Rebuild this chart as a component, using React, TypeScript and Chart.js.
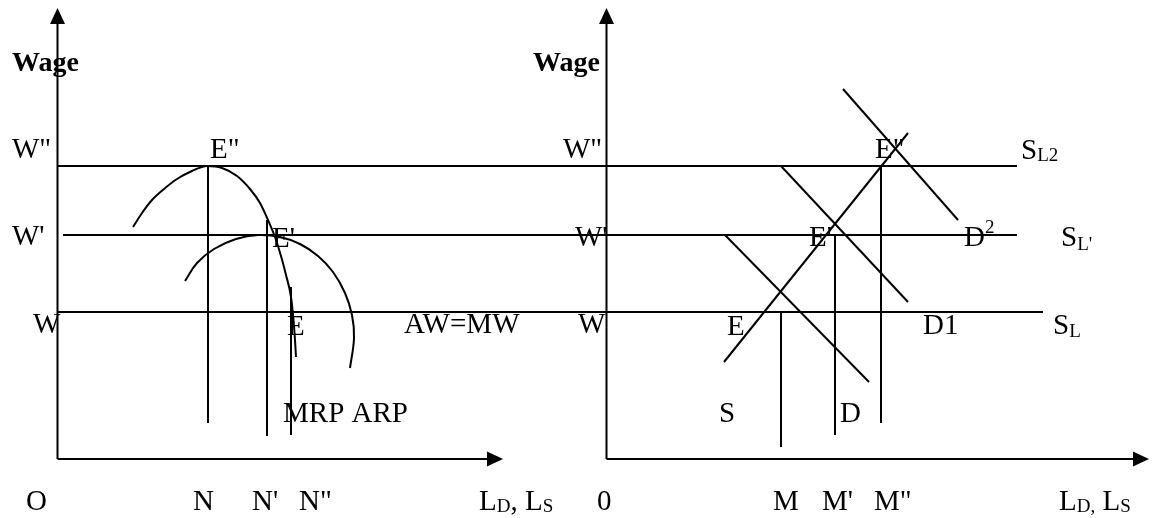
import React, { useEffect, useRef } from "react";
import { Chart, registerables } from "chart.js";

Chart.register(...registerables);

const W = 1152;
const H = 518;

// ---------- Left panel (labour market, firm: MRP / ARP) ----------
const leftWageAxis = [[57.5, 24], [57.5, 459]];
const leftLabourAxis = [[57.5, 459], [487, 459]];
const wageHigh = [[57.5, 166], [1017, 166]]; // W''  (S_L2)
const wageMid = [[63, 235], [1017, 235]]; // W'   (S_L')
const wageLow = [[57.5, 312], [1043, 312]]; // W    (S_L)
const lineN = [[208, 166], [208, 423]];
const lineN1 = [[267, 220], [267, 436]];
const lineN2 = [[291, 287], [291, 435]];
const mrpCurve = [
  [133, 227], [142, 213], [152, 200], [164, 189], [177, 179], [192, 171],
  [207, 166], [222, 168], [237, 176], [250, 189], [260, 203], [268, 220],
  [275, 237], [281, 256], [286, 275], [291, 297], [293.5, 320], [295, 340],
  [296, 357],
];
const arpCurve = [
  [185, 281], [197, 263], [214, 249], [236, 239], [258, 235], [280, 237],
  [300, 244], [318, 256], [333, 272], [345, 293], [352, 315], [354, 338],
  [350, 368],
];

// ---------- Right panel (market supply / demand) ----------
const rightWageAxis = [[606.5, 24], [606.5, 459]];
const rightLabourAxis = [[606.5, 459], [1133, 459]];
const supplyS = [[724, 362], [908, 133]];
const demandD1 = [[725, 235], [869, 382]];
const demandD = [[781, 166], [908, 302]];
const demandD2 = [[843, 89], [958, 220]];
const lineM = [[781, 312], [781, 447]];
const lineM1 = [[835, 235], [835, 435]];
const lineM2 = [[881, 166], [881, 423]];

// Arrow heads: tip, direction
const arrowTips: { at: number[]; dir: "up" | "right" }[] = [
  { at: [57.5, 8], dir: "up" },
  { at: [503, 459], dir: "right" },
  { at: [606.5, 8], dir: "up" },
  { at: [1149, 459], dir: "right" },
];

// Text labels: [x, baseline y, parts]; part = [text, size, dy, bold]
type Part = [string, number, number, boolean?];
const F = 29;
const SUB = 19;
const labels: { at: number[]; parts: Part[] }[] = [
  // left
  { at: [12, 71], parts: [["Wage", 28, 0, true]] },
  { at: [12, 158], parts: [['W"', F, 0]] },
  { at: [210, 158], parts: [['E"', F, 0]] },
  { at: [12, 245], parts: [["W'", F, 0]] },
  { at: [272, 247], parts: [["E'", F, 0]] },
  { at: [33, 333], parts: [["W", F, 0]] },
  { at: [287, 335], parts: [["E", F, 0]] },
  { at: [404, 333], parts: [["AW=MW", F, 0]] },
  { at: [283, 422], parts: [["MRP ARP", F, 0]] },
  { at: [26, 510], parts: [["O", F, 0]] },
  { at: [193, 510], parts: [["N", F, 0]] },
  { at: [252, 510], parts: [["N'", F, 0]] },
  { at: [299, 510], parts: [['N"', F, 0]] },
  { at: [479, 510], parts: [["L", F, 0], ["D", SUB, 2], [", L", F, 0], ["S", SUB, 2]] },
  // right
  { at: [533, 71], parts: [["Wage", 28, 0, true]] },
  { at: [563, 158], parts: [['W"', F, 0]] },
  { at: [575, 246], parts: [["W'", F, 0]] },
  { at: [578, 333], parts: [["W", F, 0]] },
  { at: [597, 510], parts: [["0", F, 0]] },
  { at: [875, 158], parts: [['E"', F, 0]] },
  { at: [1021, 159], parts: [["S", F, 0], ["L2", SUB, 2]] },
  { at: [809, 246], parts: [["E'", F, 0]] },
  { at: [964, 246], parts: [["D", F, 0], ["2", SUB, -13]] },
  { at: [1061, 246], parts: [["S", F, 0], ["L'", SUB, 4]] },
  { at: [727, 335], parts: [["E", F, 0]] },
  { at: [923, 334], parts: [["D1", F, 0]] },
  { at: [1053, 334], parts: [["S", F, 0], ["L", SUB, 3]] },
  { at: [719, 422], parts: [["S", F, 0]] },
  { at: [840, 422], parts: [["D", F, 0]] },
  { at: [773, 510], parts: [["M", F, 0]] },
  { at: [822, 510], parts: [["M'", F, 0]] },
  { at: [874, 510], parts: [['M"', F, 0]] },
  { at: [1059, 510], parts: [["L", F, 0], ["D,", SUB, 2], [" L", F, 0], ["S", SUB, 2]] },
];

const straight = [
  leftWageAxis, leftLabourAxis, wageHigh, wageMid, wageLow, lineN, lineN1, lineN2,
  rightWageAxis, rightLabourAxis, supplyS, demandD1, demandD, demandD2, lineM, lineM1, lineM2,
];

const toPts = (a: number[][]) => a.map(([x, y]) => ({ x, y }));

const annotations = {
  id: "diagramAnnotations",
  afterDatasetsDraw(chart: any) {
    const { ctx, scales } = chart;
    const sx = (v: number) => scales.x.getPixelForValue(v);
    const sy = (v: number) => scales.y.getPixelForValue(v);
    ctx.save();
    ctx.fillStyle = "#000";
    for (const a of arrowTips) {
      const x = sx(a.at[0]);
      const y = sy(a.at[1]);
      ctx.beginPath();
      if (a.dir === "up") {
        ctx.moveTo(x, y);
        ctx.lineTo(x - 7.5, y + 16);
        ctx.lineTo(x + 7.5, y + 16);
      } else {
        ctx.moveTo(x, y);
        ctx.lineTo(x - 16, y - 7.5);
        ctx.lineTo(x - 16, y + 7.5);
      }
      ctx.closePath();
      ctx.fill();
    }
    ctx.textBaseline = "alphabetic";
    ctx.textAlign = "left";
    for (const l of labels) {
      let x = sx(l.at[0]);
      const y = sy(l.at[1]);
      for (const [t, size, dy, bold] of l.parts) {
        ctx.font = `${bold ? "bold " : ""}${size}px "Liberation Serif", "Times New Roman", serif`;
        ctx.fillText(t, x, y + dy);
        x += ctx.measureText(t).width;
      }
    }
    ctx.restore();
  },
};

export default function App() {
  const ref = useRef<HTMLCanvasElement | null>(null);
  useEffect(() => {
    if (!ref.current) return;
    const base = {
      showLine: true,
      borderColor: "#000",
      borderWidth: 2,
      pointRadius: 0,
      pointHoverRadius: 0,
      fill: false,
    };
    const datasets: any[] = [
      ...straight.map((s) => ({ ...base, data: toPts(s), tension: 0 })),
      { ...base, data: toPts(mrpCurve), cubicInterpolationMode: "monotone" },
      { ...base, data: toPts(arpCurve), tension: 0.4 },
    ];
    const chart = new Chart(ref.current, {
      type: "scatter",
      data: { datasets },
      options: {
        responsive: false,
        animation: false,
        devicePixelRatio: 1,
        events: [],
        layout: { padding: 0 },
        plugins: { legend: { display: false }, tooltip: { enabled: false } },
        scales: {
          x: { type: "linear", min: 0, max: W, display: false },
          y: { type: "linear", min: 0, max: H, reverse: true, display: false },
        },
      },
      plugins: [annotations],
    });
    return () => chart.destroy();
  }, []);
  return (
    <div style={{ position: "fixed", left: 0, top: 0, width: W, height: H, background: "#fff" }}>
      <canvas ref={ref} width={W} height={H} style={{ display: "block" }} />
    </div>
  );
}
